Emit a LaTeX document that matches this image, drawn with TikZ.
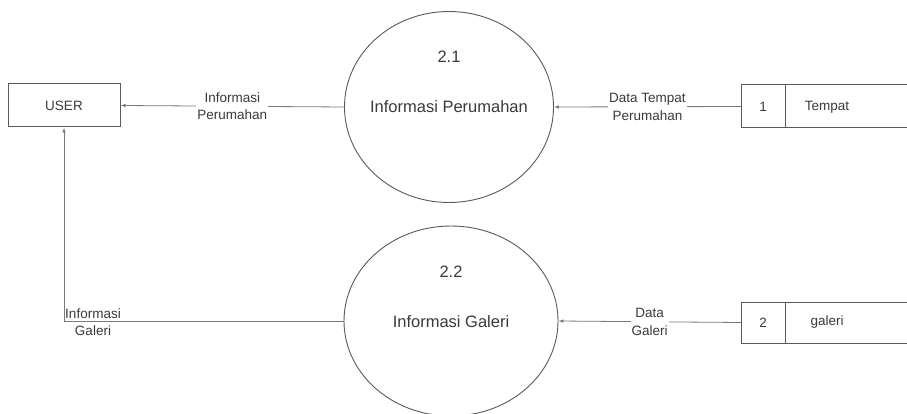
\documentclass[tikz,border=0pt]{standalone}
\usepackage{fontspec}
\setmainfont{Liberation Sans}
\usetikzlibrary{shapes.geometric,arrows.meta}
\definecolor{linec}{HTML}{7A7A7A}
\definecolor{shapec}{HTML}{5A5A5A}
\definecolor{textc}{HTML}{3A3A3A}
\begin{document}
\begin{tikzpicture}[x=1pt,y=-1pt,
  every node/.style={text=textc},
  entity/.style={draw=shapec,line width=1pt,minimum width=112pt,minimum height=43pt,inner sep=0pt,font=\fontsize{13.5}{16}\selectfont},
  proc/.style={ellipse,draw=shapec,line width=0.9pt,inner sep=0pt},
  ptext/.style={inner sep=1pt,font=\fontsize{16.5}{19}\selectfont},
  storeid/.style={draw=shapec,line width=1pt,minimum width=44pt,inner sep=0pt,outer sep=0pt,font=\fontsize{13.5}{16}\selectfont},
  stext/.style={inner sep=1pt,font=\fontsize{13.5}{16}\selectfont},
  lab/.style={align=center,inner sep=1pt,font=\fontsize{13.5}{17.5}\selectfont},
  flow/.style={draw=linec,line width=0.8pt,-{Latex[length=5pt,width=3.5pt,fill=shapec]}},
  openline/.style={draw=shapec,line width=1pt}]
\useasboundingbox (0,0) rectangle (907,414);
\fill[white] (0,0) rectangle (907,414);
% external entity
\node[entity] (user) at (64,105.5) {USER};
% processes
\node[proc,minimum width=209pt,minimum height=191pt] (p1) at (449,107) {};
\node[ptext] (p1n) at (449,57) {2.1};
\node[ptext] (p1t) at (449,107) {Informasi Perumahan};
\node[proc,minimum width=214pt,minimum height=190pt] (p2) at (451,321) {};
\node[ptext] (p2n) at (451,272) {2.2};
\node[ptext] (p2t) at (451,322) {Informasi Galeri};
% data stores
\node[storeid,minimum height=43pt] (s1) at (763,106.5) {1};
\node[stext] (s1t) at (827,107) {Tempat};
\draw[openline] (s1.north east) -- (907,85);
\draw[openline] (s1.south east) -- (907,128);
\node[storeid,minimum height=41pt] (s2) at (763,322.5) {2};
\node[stext] (s2t) at (827,322) {galeri};
\draw[openline] (s2.north east) -- (907,302);
\draw[openline] (s2.south east) -- (907,343);
% flows
\draw[flow] (p1.west) -- node[lab,fill=white] {Informasi\\Perumahan} (user.east);
\draw[flow] (s1.west) -- node[lab,fill=white] {Data Tempat\\Perumahan} (p1.east);
\draw[flow] (s2.west) -- node[lab,fill=white] {Data\\Galeri} (p2.east);
\coordinate (corner) at (user.south |- p2.west);
\draw[flow] (p2.west) -- (corner) -- (user.south);
\node[lab] (lg) at (93,322) {Informasi\\Galeri};
\end{tikzpicture}
\end{document}
